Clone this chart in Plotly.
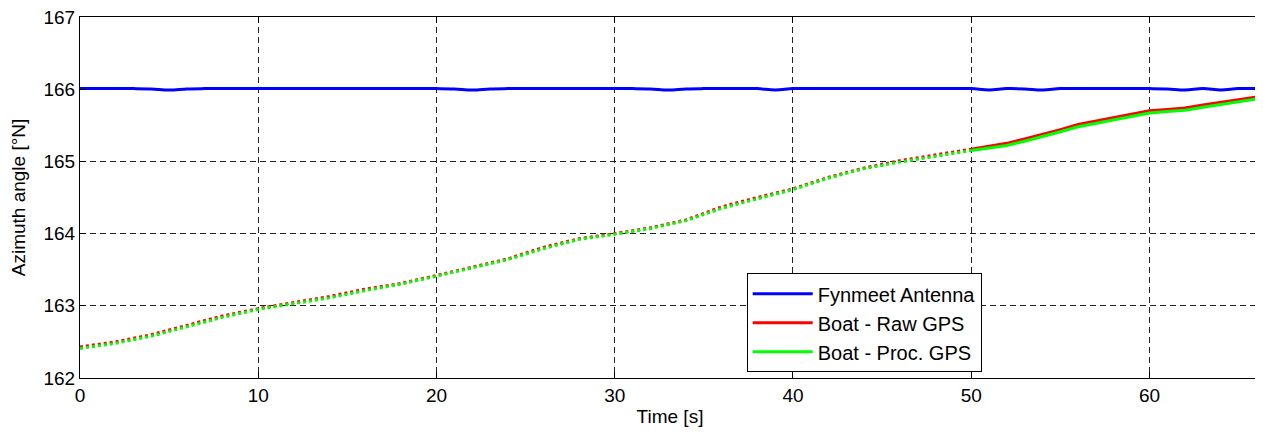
import plotly.graph_objects as go

# ---- data ----
antenna_t = [0, 1, 2, 3, 4, 5, 6, 7, 8, 9, 10, 11, 12, 13, 14, 15, 16, 17, 18, 19, 20,
             21, 22, 23, 24, 25, 26, 27, 28, 29, 30, 31, 32, 33, 34, 35, 36, 37, 38, 39, 40,
             41, 42, 43, 44, 45, 46, 47, 48, 49, 50, 51, 52, 53, 54, 55, 56, 57, 58, 59, 60,
             61, 62, 63, 64, 65, 66.2]
antenna_az = [166.008, 166.008, 166.008, 166.008, 166.004, 165.988, 166.004, 166.008, 166.008, 166.008, 166.008,
              166.008, 166.008, 166.008, 166.008, 166.008, 166.008, 166.008, 166.008, 166.008, 166.008,
              166.004, 165.988, 166.004, 166.008, 166.008, 166.008, 166.008, 166.008, 166.008, 166.008,
              166.008, 166.004, 165.988, 166.004, 166.008, 166.008, 166.008, 166.008, 165.988, 166.008,
              166.008, 166.008, 166.008, 166.008, 166.008, 166.008, 166.008, 166.008, 166.008, 166.008,
              165.988, 166.008, 166.004, 165.988, 166.008, 166.008, 166.008, 166.008, 166.008, 166.008,
              166.004, 165.988, 166.008, 165.988, 166.008, 166.008]

boat_t_a = [0, 2, 4, 6, 8, 10, 12, 14, 16, 18, 20, 22, 24, 26, 28, 30, 32, 34, 36, 38, 40,
            42, 44, 46, 48, 50]
raw_a = [162.43, 162.50, 162.60, 162.73, 162.86, 162.96, 163.04, 163.13, 163.23, 163.31, 163.42,
         163.53, 163.65, 163.81, 163.93, 164.00, 164.08, 164.19, 164.37, 164.50, 164.62,
         164.78, 164.91, 165.01, 165.09, 165.17]
proc_a = [162.41, 162.48, 162.58, 162.71, 162.84, 162.95, 163.03, 163.11, 163.21, 163.30, 163.41,
          163.52, 163.64, 163.79, 163.92, 163.99, 164.07, 164.18, 164.35, 164.48, 164.61,
          164.77, 164.90, 164.99, 165.07, 165.15]

boat_t_b = [50, 51, 52, 53, 54, 55, 56, 57, 58, 59, 60, 61, 62, 63, 64, 65, 66.2]
raw_b = [165.17, 165.21, 165.25, 165.31, 165.37, 165.44, 165.51, 165.56, 165.61, 165.66, 165.70,
         165.72, 165.74, 165.78, 165.82, 165.86, 165.90]
proc_b = [165.15, 165.18, 165.22, 165.28, 165.34, 165.41, 165.48, 165.53, 165.58, 165.63, 165.67,
          165.69, 165.71, 165.75, 165.79, 165.83, 165.87]

x_ticks = [0, 10, 20, 30, 40, 50, 60]
y_ticks = [162, 163, 164, 165, 166, 167]

FONT = "Liberation Sans, Arial, sans-serif"
BLUE = "#0000ff"
RED = "#ff0000"
GREEN = "#00ff00"

fig = go.Figure()
fig.add_trace(go.Scatter(x=boat_t_a, y=raw_a, mode="lines", line=dict(color=RED, width=3, dash="dot"),
                         showlegend=False, legendgroup="raw"))
fig.add_trace(go.Scatter(x=boat_t_a, y=proc_a, mode="lines", line=dict(color=GREEN, width=3, dash="dot"),
                         showlegend=False, legendgroup="proc"))
fig.add_trace(go.Scatter(x=antenna_t, y=antenna_az, mode="lines", line=dict(color=BLUE, width=3),
                         name="Fynmeet Antenna", line_shape="spline", legendrank=1))
fig.add_trace(go.Scatter(x=boat_t_b, y=raw_b, mode="lines", line=dict(color=RED, width=3),
                         name="Boat - Raw GPS", legendgroup="raw", legendrank=2))
fig.add_trace(go.Scatter(x=boat_t_b, y=proc_b, mode="lines", line=dict(color=GREEN, width=3),
                         name="Boat - Proc. GPS", legendgroup="proc", legendrank=3))

# page body has an 8px default margin, so the figure is sized/margined to compensate
fig.update_layout(
    width=1255, height=429,
    margin=dict(l=72, r=3, t=9, b=59),
    paper_bgcolor="white", plot_bgcolor="white",
    font=dict(family=FONT, size=19, color="black"),
    legend=dict(
        x=0.565, y=0.29, xanchor="left", yanchor="top",
        bgcolor="white", bordercolor="black", borderwidth=1,
        font=dict(family=FONT, size=20, color="black"),
        itemwidth=60, tracegroupgap=0,
    ),
)
fig.update_xaxes(
    range=[0, 66.2], tickvals=x_ticks, ticktext=[str(v) for v in x_ticks],
    showline=True, linecolor="black", linewidth=1, mirror="ticks",
    ticks="inside", ticklen=6, tickcolor="black",
    showgrid=True, gridcolor="#222222", gridwidth=1, griddash="6px,4px",
    zeroline=False, automargin=False, ticklabeloverflow="allow",
    title=dict(text="Time [s]", standoff=4, font=dict(size=19)),
    tickfont=dict(size=19),
)
fig.update_yaxes(
    range=[162, 167], tickvals=y_ticks, ticktext=[str(v) for v in y_ticks],
    showline=True, linecolor="black", linewidth=1, mirror="ticks",
    ticks="inside", ticklen=6, tickcolor="black",
    showgrid=True, gridcolor="#222222", gridwidth=1, griddash="6px,4px",
    zeroline=False, automargin=False, ticklabeloverflow="allow",
    title=dict(text="Azimuth angle [°N]", standoff=14, font=dict(size=19)),
    tickfont=dict(size=19),
)

fig.write_html("out.html")
